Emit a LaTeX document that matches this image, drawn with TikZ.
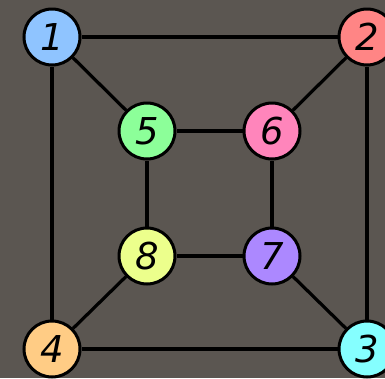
\documentclass[tikz,border=0pt]{standalone}
\usepackage{fontspec}
\setmainfont{DejaVu Sans}
\begin{document}
\begin{tikzpicture}[x=1pt,y=-1pt,
  vtx/.style={circle,draw=black,line width=3pt,minimum size=56pt,inner sep=0pt,
    font=\fontsize{37}{37}\selectfont\itshape},
  edge/.style={line width=3.2pt,black}]
\definecolor{bg}{HTML}{5B5651}
\fill[bg] (0,0) rectangle (385,378);
\useasboundingbox (0,0) rectangle (385,378);
\node[vtx,fill={rgb,255:red,143;green,196;blue,255}] (n1) at (52,37) {1};
\node[vtx,fill={rgb,255:red,255;green,133;blue,133}] (n2) at (367,37) {2};
\node[vtx,fill={rgb,255:red,133;green,255;blue,255}] (n3) at (367,349) {3};
\node[vtx,fill={rgb,255:red,255;green,204;blue,133}] (n4) at (52,349) {4};
\node[vtx,fill={rgb,255:red,140;green,255;blue,153}] (n5) at (147,131) {5};
\node[vtx,fill={rgb,255:red,255;green,133;blue,187}] (n6) at (272,131) {6};
\node[vtx,fill={rgb,255:red,172;green,136;blue,255}] (n7) at (272,256) {7};
\node[vtx,fill={rgb,255:red,236;green,255;blue,140}] (n8) at (147,256) {8};
\draw[edge] (n1) -- (n2);
\draw[edge] (n1) -- (n5);
\draw[edge] (n1) -- (n4);
\draw[edge] (n2) -- (n6);
\draw[edge] (n2) -- (n3);
\draw[edge] (n5) -- (n6);
\draw[edge] (n5) -- (n8);
\draw[edge] (n6) -- (n7);
\draw[edge] (n8) -- (n7);
\draw[edge] (n8) -- (n4);
\draw[edge] (n7) -- (n3);
\draw[edge] (n4) -- (n3);
\end{tikzpicture}
\end{document}
